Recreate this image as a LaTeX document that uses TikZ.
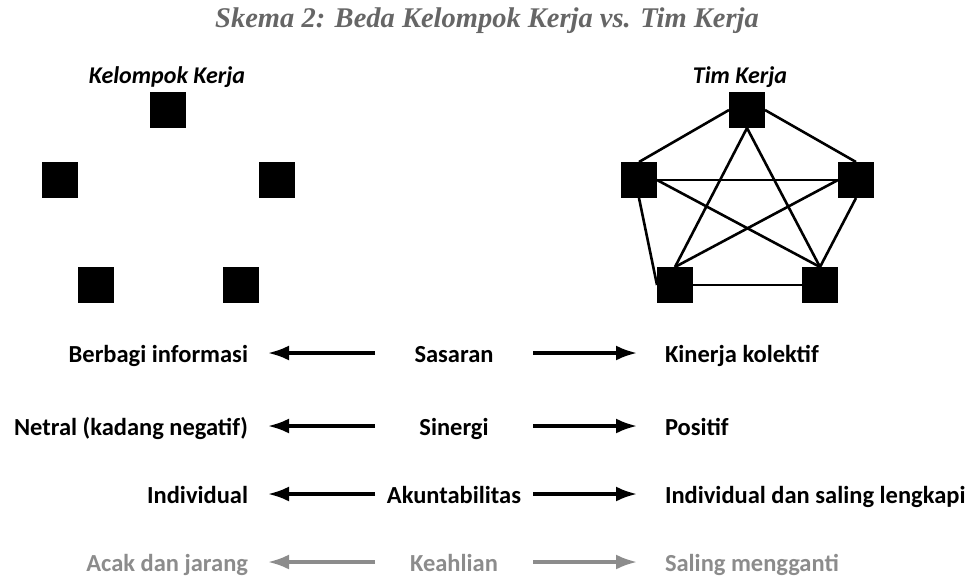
\documentclass[tikz,border=0pt]{standalone}
\usepackage{fontspec}
\setmainfont{Carlito}
\newfontfamily\titlefont{Liberation Serif}
\usetikzlibrary{arrows.meta}

\tikzset{
  member/.style={fill=black, minimum size=36pt, inner sep=0pt, outer sep=0pt},
  link/.style={line width=2.6pt},
  grouplabel/.style={font=\fontsize{24}{27}\selectfont\bfseries\itshape},
  rowtext/.style={font=\fontsize{24.5}{28}\selectfont\bfseries, inner sep=0pt,
    outer sep=0pt, text height=19pt, text depth=1pt},
  pointer/.style={line width=3.2pt, -{Latex[length=21pt,width=15pt]}},
}

\begin{document}
\begin{tikzpicture}[x=1pt, y=-1pt]
  \useasboundingbox (0,0) rectangle (975,579);
  \clip (0,0) rectangle (975,579);
  % title
  \node[font=\titlefont\fontsize{28.5}{32}\selectfont\bfseries\itshape, text=black!60]
    (title) at (487,21) {Skema 2: Beda Kelompok Kerja vs. Tim Kerja};
  % group labels
  \node[grouplabel] (kelompok) at (167,77) {Kelompok Kerja};
  \node[grouplabel] (tim) at (740,77) {Tim Kerja};
  % kelompok kerja: five loose members
  \foreach \n/\x/\y in {k1/168/110, k2/60/180, k3/277/180, k4/96/285, k5/241/285}
    \node[member] (\n) at (\x,\y) {};
  % tim kerja: five members, all linked
  \foreach \n/\x/\y in {t1/747/110, t2/639/180, t3/856/180, t4/675/285, t5/820/285}
    \node[member] (\n) at (\x,\y) {};
  \foreach \a/\b in {t1.west/t2.north, t1.east/t3.north, t1.south/t4.north,
      t1.south/t5.north, t2.east/t3.west, t2.east/t5.north, t3.west/t4.north,
      t2.south/t4.west, t3.south/t5.north, t4.east/t5.west}
    \draw[link] (\a) -- (\b);
  % comparison rows: kelompok <- aspect -> tim
  \foreach \r/\y/\lft/\mid/\rgt/\col in {
      1/353/Berbagi informasi/Sasaran/Kinerja kolektif/black,
      2/426/Netral (kadang negatif)/Sinergi/Positif/black,
      3/494/Individual/Akuntabilitas/Individual dan saling lengkapi/black,
      4/562/Acak dan jarang/Keahlian/Saling mengganti/black!45}
  {
    \node[rowtext, text=\col, minimum width=158pt] (m\r) at (454,\y) {\mid};
    \node[rowtext, text=\col, anchor=east] (l\r) at (248,\y) {\lft};
    \node[rowtext, text=\col, anchor=west] (r\r) at (665,\y) {\rgt};
    \draw[pointer, draw=\col, fill=\col, shorten >=20pt] (m\r.west) -- (l\r.east);
    \draw[pointer, draw=\col, fill=\col, shorten >=28pt] (m\r.east) -- (r\r.west);
  }
\end{tikzpicture}
\end{document}
